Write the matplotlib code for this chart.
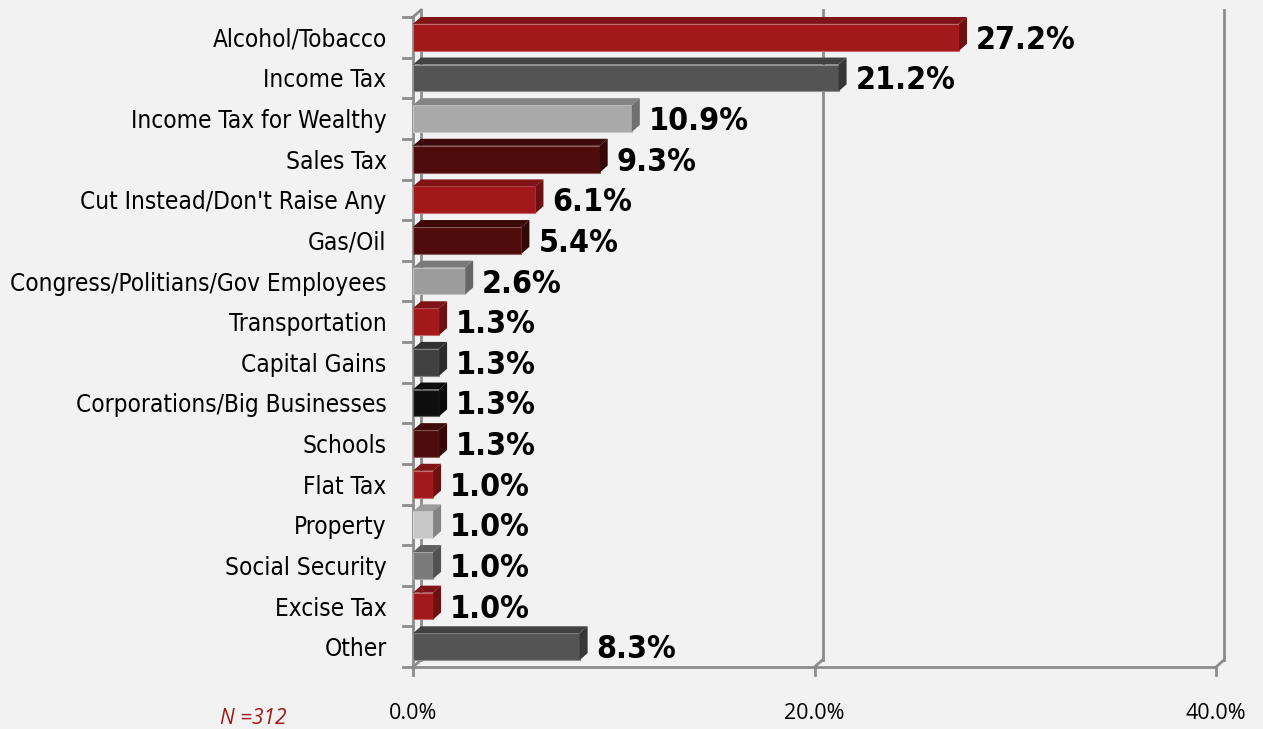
import matplotlib
matplotlib.use('Agg')
from matplotlib import pyplot as plt
from matplotlib.patches import Polygon
from matplotlib.colors import to_rgb

# Survey answers, top to bottom
categorias = ['Alcohol/Tobacco', 'Income Tax', 'Income Tax for Wealthy', 'Sales Tax',
              "Cut Instead/Don't Raise Any", 'Gas/Oil', 'Congress/Politians/Gov Employees',
              'Transportation', 'Capital Gains', 'Corporations/Big Businesses', 'Schools',
              'Flat Tax', 'Property', 'Social Security', 'Excise Tax', 'Other']
valores = [27.2, 21.2, 10.9, 9.3, 6.1, 5.4, 2.6, 1.3, 1.3, 1.3, 1.3, 1.0, 1.0, 1.0, 1.0, 8.3]
cores = ['#a3181b', '#545454', '#a9a9a9', '#500c0c', '#a3181b', '#500c0c', '#9c9c9c',
         '#a3181b', '#404040', '#0f0f0f', '#500c0c', '#a3181b', '#c8c8c8', '#7a7a7a',
         '#a3181b', '#545454']
ticks_x = [0, 20, 40]
ticks_rot = ['0.0%', '20.0%', '40.0%']
amostra = 'N =312'

fundo = '#f2f2f2'
cinza = '#8c8c8c'

fig = plt.figure(figsize=(12.63, 7.29), dpi=100, facecolor=fundo)
ax = fig.add_axes([413/1263, 1 - 667/729, 803/1263, 650/729])
ax.set_facecolor('none')
ax.set_xlim(0, 40)
ax.set_ylim(len(categorias) - 0.5, -0.5)

# profundidade 3D (8 px para a direita, 7 px para cima)
DX = 8 * 40 / 803
DY = 7 * len(categorias) / 650

def escurece(c, f):
    r, g, b = to_rgb(c)
    return (r * f, g * f, b * f)

def clareia(c, f):
    r, g, b = to_rgb(c)
    return (r + (1 - r) * f, g + (1 - g) * f, b + (1 - b) * f)

# parede do fundo
y0 = len(categorias) - 0.5
y1 = -0.5
for t in ticks_x:
    ax.plot([t + DX, t + DX], [y0 - DY, y1 - DY], color=cinza, lw=2, clip_on=False, zorder=1)
    ax.plot([t, t + DX], [y0, y0 - DY], color=cinza, lw=2, clip_on=False, zorder=1)
    ax.plot([t, t], [y0, y0 + 8 * len(categorias) / 650], color=cinza, lw=2, clip_on=False, zorder=1)
ax.plot([0, DX], [y1, y1 - DY], color=cinza, lw=2, clip_on=False, zorder=1)
# eixos da frente
ax.plot([0, 40], [y0, y0], color=cinza, lw=2, clip_on=False, zorder=1)
ax.plot([0, 0], [y0, y1], color=cinza, lw=2, clip_on=False, zorder=1)
for i in range(len(categorias) + 1):
    ax.plot([-10 * 40 / 803, 0], [i - 0.5, i - 0.5], color=cinza, lw=2, clip_on=False, zorder=1)

# barras
h = 0.66
for i, (v, c) in enumerate(zip(valores, cores)):
    topo = i - h / 2
    base = i + h / 2
    ax.barh(i, v, height=h, color=c, edgecolor=clareia(c, 0.35), linewidth=0.8, zorder=3)
    ax.add_patch(Polygon([(0, topo), (DX, topo - DY), (v + DX, topo - DY), (v, topo)],
                         closed=True, facecolor=escurece(c, 0.78), edgecolor='none', zorder=3))
    ax.add_patch(Polygon([(v, topo), (v + DX, topo - DY), (v + DX, base - DY), (v, base)],
                         closed=True, facecolor=escurece(c, 0.66), edgecolor='none', zorder=3))
    ax.annotate(f'{v:.1f}%', xy=(v + DX, i), xytext=(9, -3), textcoords='offset pixels',
                ha='left', va='center', fontsize=23, fontweight='bold', fontstretch='condensed',
                family='DejaVu Sans', color='black', annotation_clip=False, zorder=4)

for s in ax.spines.values():
    s.set_visible(False)
ax.set_yticks(range(len(categorias)))
ax.set_yticklabels(categorias, family='DejaVu Sans', fontstretch='condensed', fontsize=17.5)
ax.set_xticks(ticks_x)
ax.set_xticklabels(ticks_rot, family=['Open Sans', 'DejaVu Sans'], fontsize=15.5)
ax.tick_params(axis='y', length=0, pad=19)
ax.tick_params(axis='x', length=0, pad=26)

fig.text(253/1263, 1 - 718/729, amostra, ha='center', va='center', color='#a3181b',
         fontsize=15, style='italic', family=['Open Sans', 'DejaVu Sans'])

plt.savefig('out.png', dpi=100, facecolor=fundo)
